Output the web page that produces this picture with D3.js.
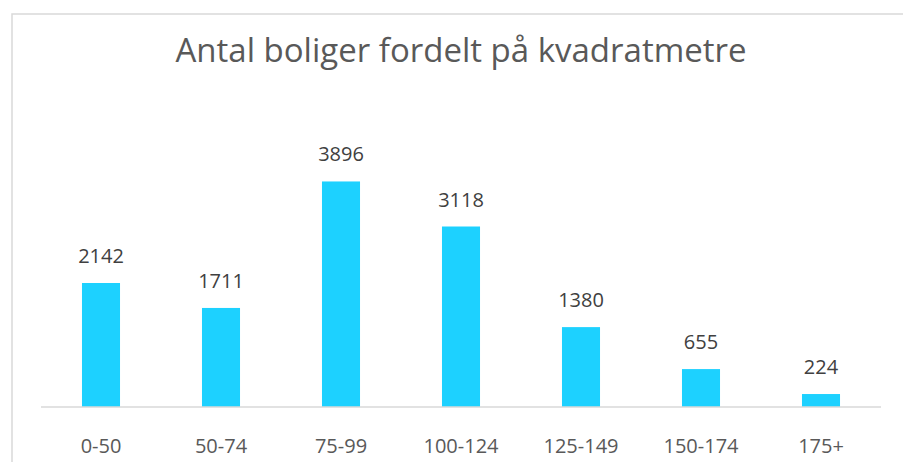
<!DOCTYPE html>
<html>
<head>
<meta charset="utf-8">
<style>
  body { margin: 0; background: #fff; font-family: "Open Sans", sans-serif; }
  .title { font-size: 33px; fill: #595959; }
  .bar-label { font-size: 20px; fill: #404040; }
  .axis-label { font-size: 20px; fill: #595959; }
</style>
</head>
<body>
<script src="https://cdnjs.cloudflare.com/ajax/libs/d3/7.8.5/d3.min.js"></script>
<script>
var categories = ["0-50", "50-74", "75-99", "100-124", "125-149", "150-174", "175+"];
var counts = [2142, 1711, 3896, 3118, 1380, 655, 224];
var chartTitle = "Antal boliger fordelt på kvadratmetre";

var width = 903, height = 462;

var svg = d3.select("body").append("svg")
    .attr("width", width)
    .attr("height", height);

// chart area frame (only left and top edges are visible in the crop)
svg.append("path")
    .attr("d", "M12,462V14H903")
    .attr("fill", "none")
    .attr("stroke", "#d9d9d9")
    .attr("stroke-width", 1.5);

svg.append("text")
    .attr("class", "title")
    .attr("x", 461)
    .attr("y", 62)
    .attr("text-anchor", "middle")
    .text(chartTitle);

var x = d3.scaleBand()
    .domain(categories)
    .range([41, 881])
    .paddingInner(0.683)
    .paddingOuter(0.3415);

var y = d3.scaleLinear()
    .domain([0, 4500])
    .range([407, 146.5]);

var data = categories.map(function(c, i){ return {cat: c, n: counts[i]}; });

svg.selectAll(".bar")
  .data(data)
  .enter().append("rect")
    .attr("class", "bar")
    .attr("x", function(d){ return x(d.cat); })
    .attr("y", function(d){ return y(d.n); })
    .attr("width", x.bandwidth())
    .attr("height", function(d){ return y(0) - y(d.n); })
    .attr("fill", "#1dd1ff");

// baseline
svg.append("line")
    .attr("x1", 41).attr("x2", 881)
    .attr("y1", y(0)).attr("y2", y(0))
    .attr("stroke", "#d9d9d9")
    .attr("stroke-width", 1.5);

svg.selectAll(".bar-label")
  .data(data)
  .enter().append("text")
    .attr("class", "bar-label")
    .attr("x", function(d){ return x(d.cat) + x.bandwidth() / 2; })
    .attr("y", function(d){ return y(d.n) - 20; })
    .attr("text-anchor", "middle")
    .text(function(d){ return d.n; });

var xAxis = svg.append("g")
    .attr("transform", "translate(0," + y(0) + ")")
    .call(d3.axisBottom(x).tickSize(0).tickPadding(0));
xAxis.select(".domain").remove();
xAxis.selectAll("text")
    .attr("class", "axis-label")
    .attr("dy", null)
    .attr("y", 46)
    .attr("font-family", null)
    .attr("font-size", null)
    .attr("fill", null);
xAxis.attr("font-family", null).attr("font-size", null);
</script>
</body>
</html>
